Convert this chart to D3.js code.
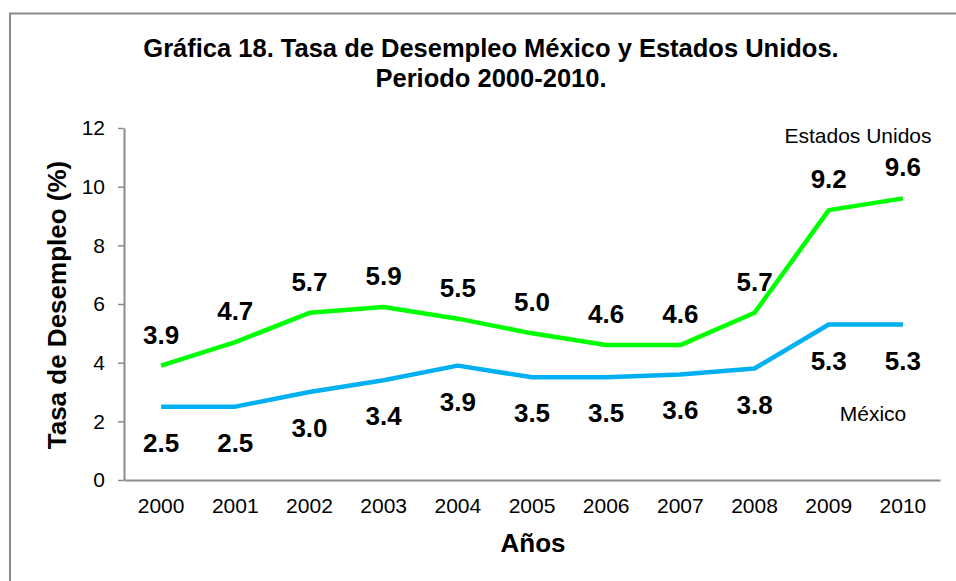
<!DOCTYPE html>
<html>
<head>
<meta charset="utf-8">
<script src="https://cdn.jsdelivr.net/npm/d3@7"></script>
<style>
  body { margin: 0; background: #fff; }
  svg { display: block; font-family: "Liberation Sans", Arial, sans-serif; }
</style>
</head>
<body>
<svg id="chart" width="956" height="581"></svg>
<script>
// data
var years = ["2000","2001","2002","2003","2004","2005","2006","2007","2008","2009","2010"];
var usa = [3.9, 4.7, 5.7, 5.9, 5.5, 5.0, 4.6, 4.6, 5.7, 9.2, 9.6];
var mexico = [2.5, 2.5, 3.0, 3.4, 3.9, 3.5, 3.5, 3.6, 3.8, 5.3, 5.3];
var yTicks = [0, 2, 4, 6, 8, 10, 12];

var svg = d3.select("#chart");
var margin = {left: 124, right: 16, top: 128, bottom: 101};
var width = 956 - margin.left - margin.right,
    height = 581 - margin.top - margin.bottom;

// outer frame (only left and top visible in the picture)
svg.append("rect")
  .attr("x", 10).attr("y", 13.5)
  .attr("width", 960).attr("height", 600)
  .attr("fill", "none").attr("stroke", "#8c8c8c").attr("stroke-width", 2);

var title = svg.append("text")
  .attr("text-anchor", "middle")
  .attr("font-weight", "bold")
  .attr("font-size", 25.5);
title.append("tspan").attr("x", 491).attr("y", 57).text("Gráfica 18. Tasa de Desempleo México y Estados Unidos.");
title.append("tspan").attr("x", 491).attr("y", 87).text("Periodo 2000-2010.");

var g = svg.append("g").attr("transform", "translate(" + margin.left + "," + margin.top + ")");

var x = d3.scaleBand().domain(years).range([0, width]);
var y = d3.scaleLinear().domain([0, 12]).range([height, 0]);

// y axis
var yAxis = g.append("g")
  .call(d3.axisLeft(y).tickValues(yTicks).tickSize(6).tickSizeOuter(0).tickPadding(13));
yAxis.select(".domain").attr("stroke", "#8c8c8c").attr("stroke-width", 2);
yAxis.selectAll(".tick line").attr("stroke", "#8c8c8c").attr("stroke-width", 1.5);
yAxis.selectAll(".tick text").attr("font-size", 21).attr("fill", "#000")
  .attr("font-family", "Liberation Sans, Arial, sans-serif");

// x axis
var xAxis = g.append("g")
  .attr("transform", "translate(0," + height + ")")
  .call(d3.axisBottom(x).tickSize(0).tickPadding(18));
xAxis.select(".domain").attr("stroke", "#8c8c8c").attr("stroke-width", 2);
xAxis.selectAll(".tick text").attr("font-size", 21).attr("fill", "#000")
  .attr("font-family", "Liberation Sans, Arial, sans-serif");

// axis titles
svg.append("text")
  .attr("transform", "translate(66,305) rotate(-90)")
  .attr("text-anchor", "middle")
  .attr("font-weight", "bold")
  .attr("font-size", 26)
  .text("Tasa de Desempleo (%)");

svg.append("text")
  .attr("x", 533).attr("y", 552)
  .attr("text-anchor", "middle")
  .attr("font-weight", "bold")
  .attr("font-size", 26)
  .text("Años");

var line = d3.line()
  .x(function(d, i) { return x(years[i]) + x.bandwidth() / 2; })
  .y(function(d) { return y(d); });

g.append("path").datum(mexico)
  .attr("d", line).attr("fill", "none")
  .attr("stroke", "#00b0f0").attr("stroke-width", 4.5).attr("stroke-linejoin", "round");

g.append("path").datum(usa)
  .attr("d", line).attr("fill", "none")
  .attr("stroke", "#00ff00").attr("stroke-width", 4.5).attr("stroke-linejoin", "round");

// value labels
g.selectAll(".lblUs").data(usa).enter().append("text")
  .attr("class", "lblUs")
  .attr("x", function(d, i) { return x(years[i]) + x.bandwidth() / 2; })
  .attr("y", function(d) { return y(d) - 22; })
  .attr("text-anchor", "middle")
  .attr("font-weight", "bold")
  .attr("font-size", 26)
  .text(function(d) { return d.toFixed(1); });

g.selectAll(".lblMx").data(mexico).enter().append("text")
  .attr("class", "lblMx")
  .attr("x", function(d, i) { return x(years[i]) + x.bandwidth() / 2; })
  .attr("y", function(d) { return y(d) + 45; })
  .attr("text-anchor", "middle")
  .attr("font-weight", "bold")
  .attr("font-size", 26)
  .text(function(d) { return d.toFixed(1); });

// series names
svg.append("text")
  .attr("x", 858).attr("y", 143)
  .attr("text-anchor", "middle")
  .attr("font-size", 21)
  .text("Estados Unidos");

svg.append("text")
  .attr("x", 873).attr("y", 421)
  .attr("text-anchor", "middle")
  .attr("font-size", 21)
  .text("México");
</script>
</body>
</html>
